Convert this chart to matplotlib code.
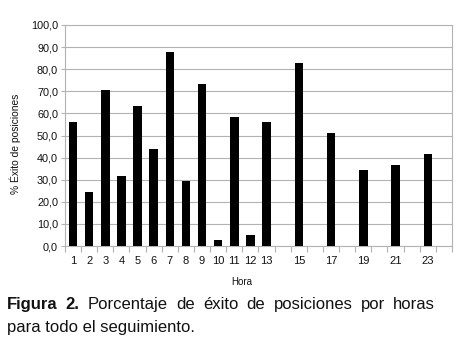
import matplotlib
matplotlib.use("Agg")
import matplotlib.pyplot as plt
from matplotlib.ticker import FixedLocator, NullFormatter

plt.rcParams['font.family'] = ['Liberation Sans', 'DejaVu Sans']

# Data
hours = list(range(1, 25))
values = [56.0, 24.6, 70.6, 31.7, 63.3, 44.0, 87.6, 29.4, 73.2, 2.7, 58.5, 5.0, 56.1,
          None, 82.9, None, 51.3, None, 34.2, None, 36.7, None, 41.6, None]
labels = ['1', '2', '3', '4', '5', '6', '7', '8', '9', '10', '11', '12', '13',
          '', '15', '', '17', '', '19', '', '21', '', '23', '']
y_ticks = [0, 10, 20, 30, 40, 50, 60, 70, 80, 90, 100]
ylabel = '% Éxito de posiciones'
xlabel = 'Hora'
caption1_bold = ['Figura', '2.']
caption1 = ['Porcentaje', 'de', 'éxito', 'de', 'posiciones', 'por', 'horas']
caption2 = 'para todo el seguimiento.'

W, H = 460, 340
fig = plt.figure(figsize=(W / 100, H / 100), dpi=100)
ax = fig.add_axes([65 / W, (H - 246) / H, (452 - 65) / W, (246 - 25) / H])

xs = [h for h, v in zip(hours, values) if v is not None]
vs = [v for v in values if v is not None]
ax.bar(xs, vs, width=0.52, color='black', zorder=3)

ax.set_xlim(0.5, 24.5)
ax.set_ylim(0, 100)
ax.set_yticks(y_ticks)
ax.set_yticklabels([f'{t:.1f}'.replace('.', ',') for t in y_ticks])
ax.set_xticks(hours)
ax.set_xticklabels(labels)
ax.xaxis.set_minor_locator(FixedLocator([h + 0.5 for h in [0] + hours]))
ax.xaxis.set_minor_formatter(NullFormatter())
ax.tick_params(axis='x', which='major', length=0, pad=7, labelsize=8, colors='#111111')
ax.tick_params(axis='x', which='minor', length=4, color='#b3b3b3', width=0.8)
ax.tick_params(axis='y', length=3, color='#b3b3b3', width=0.8, labelsize=7.8, pad=2,
               labelcolor='#111111')
ax.yaxis.grid(True, color='#b3b3b3', linewidth=0.8, zorder=0)
for s in ax.spines.values():
    s.set_color('#b3b3b3')
    s.set_linewidth(0.8)

fig.text(15 / W, (H - 144) / H, ylabel, rotation=90, ha='center', va='center',
         fontsize=7.4, color='#111111')
fig.text(242 / W, (H - 285) / H, xlabel, ha='center', va='baseline', fontsize=7,
         color='#111111')

# Caption line 1, justified
renderer = fig.canvas.get_renderer()
texts = []
for w in caption1_bold:
    texts.append(fig.text(0, (H - 309) / H, w, fontsize=12, fontweight='bold',
                          va='baseline', ha='left', color='#111111'))
for w in caption1:
    texts.append(fig.text(0, (H - 309) / H, w, fontsize=12, va='baseline', ha='left',
                          color='#111111'))
widths = [t.get_window_extent(renderer).width for t in texts]
left, right = 7, 435
gap = (right - left - sum(widths)) / (len(texts) - 1)
x = left
for t, w in zip(texts, widths):
    t.set_x(x / W)
    x += w + gap

fig.text(left / W, (H - 332) / H, caption2, fontsize=12, va='baseline', ha='left',
         color='#111111')

fig.savefig('out.png', dpi=100)
